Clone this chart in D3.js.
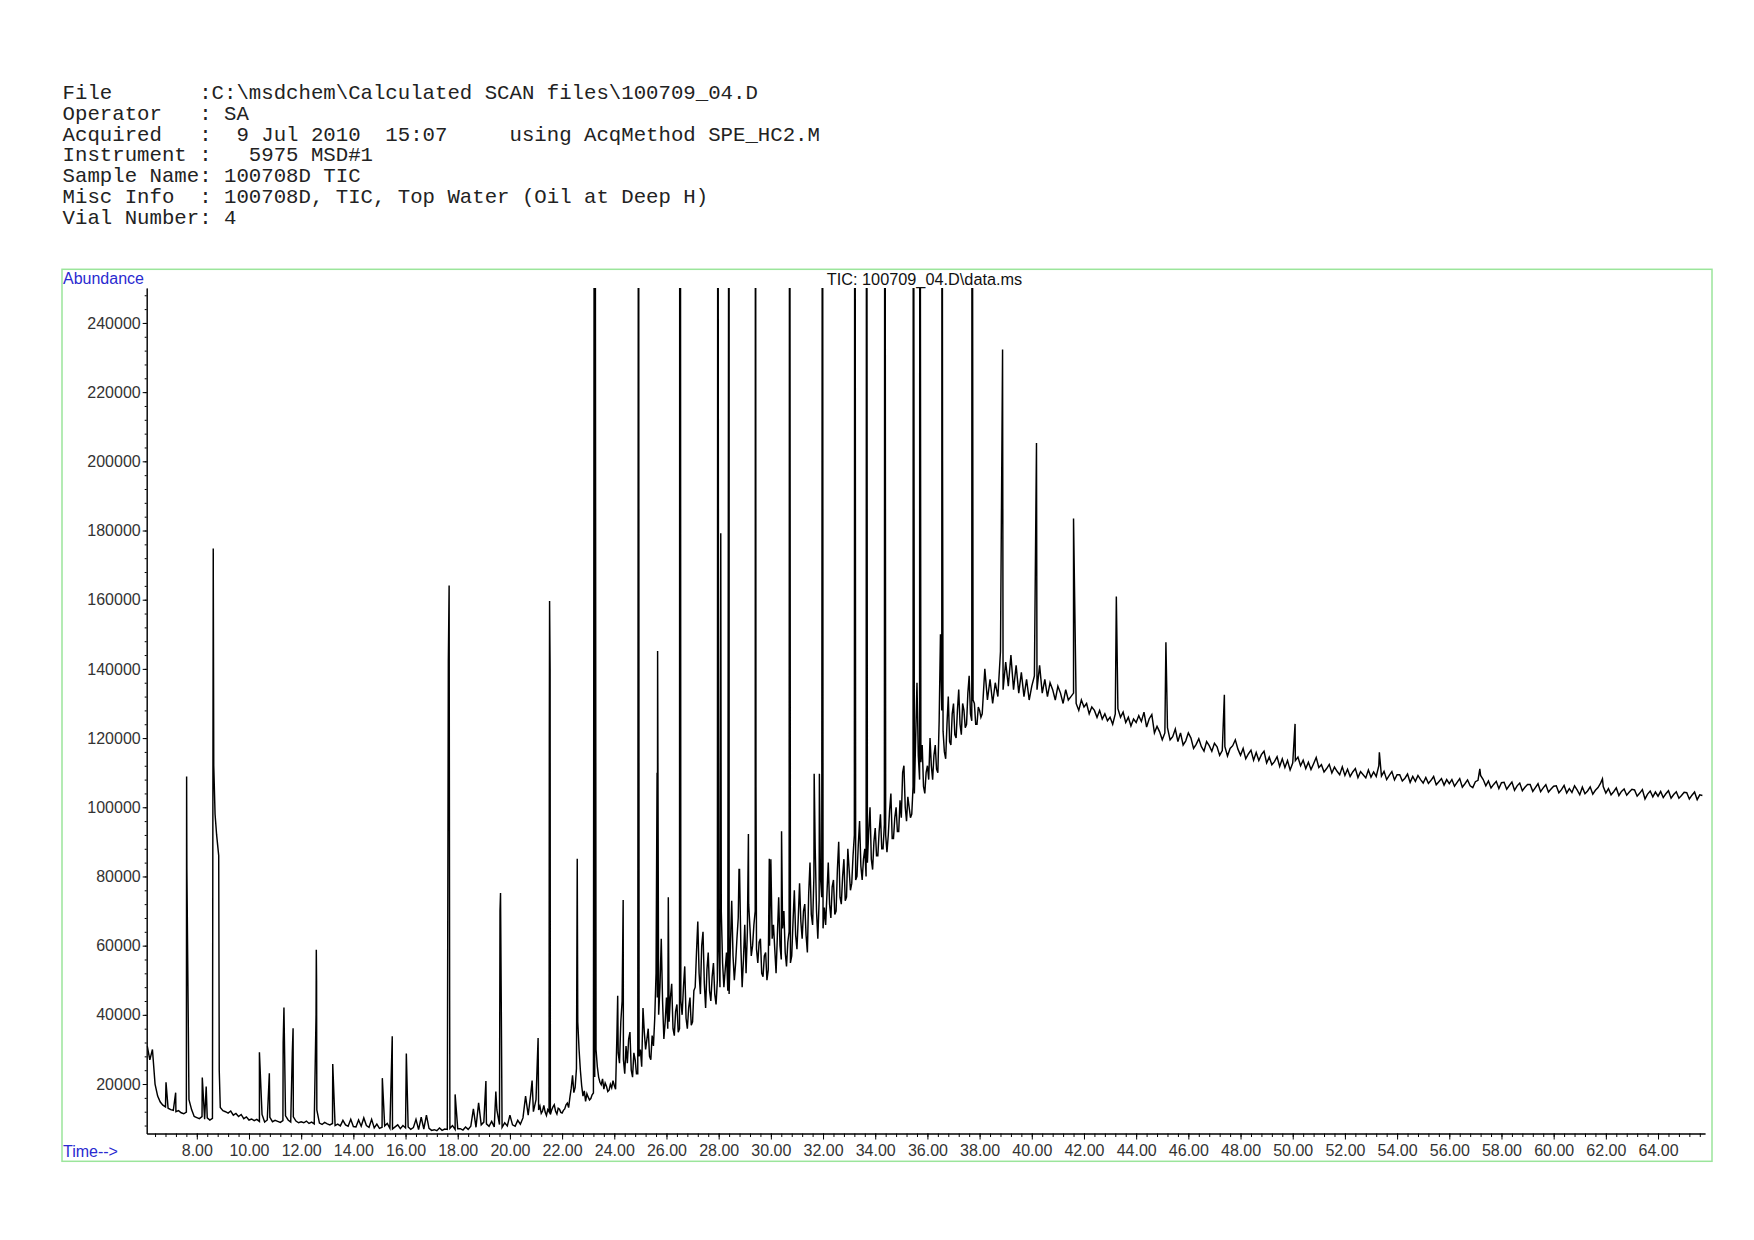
<!DOCTYPE html>
<html><head><meta charset="utf-8">
<script src="https://cdn.jsdelivr.net/npm/d3@7"></script>
<style>body{margin:0;background:#fff}svg{display:block}</style>
</head><body>
<svg id="chart" width="1754" height="1240"></svg>
<script>
// ---------- texts ----------
const headerLines = [
  "File       :C:\\msdchem\\Calculated SCAN files\\100709_04.D",
  "Operator   : SA",
  "Acquired   :  9 Jul 2010  15:07     using AcqMethod SPE_HC2.M",
  "Instrument :   5975 MSD#1",
  "Sample Name: 100708D TIC",
  "Misc Info  : 100708D, TIC, Top Water (Oil at Deep H)",
  "Vial Number: 4"
];
const chartTitle = "TIC: 100709_04.D\\data.ms";
const yLabel = "Abundance";
const xLabel = "Time-->";

// ---------- ticks ----------
const yTicks = [20000,40000,60000,80000,100000,120000,140000,160000,180000,200000,220000,240000];
const xTicks = [8,10,12,14,16,18,20,22,24,26,28,30,32,34,36,38,40,42,44,46,48,50,52,54,56,58,60,62,64];

// ---------- data (abundance in thousands) ----------
// segment A: 6.1 - 21.0 min, one reading every 0.1 min
const bgA_start = 6.1, bgA_step = 0.1;
const bgA = [
31,27,30,20,16.5,14.8,13.9,13.4,13.0,12.6,
12.4,12.0,12.3,11.7,11.4,11.9,15.5,12.6,10.6,10.3,
10.0,10.6,9.8,10.2,9.6,10.1,98,89,13.2,12.3,
12.0,11.6,12.2,11.0,11.5,10.6,11.2,10.0,10.5,9.6,
9.9,9.4,9.8,9.2,11.2,9.0,9.6,10.4,9.1,9.5,
9.2,8.9,9.4,10.8,9.6,9.0,10.5,9.3,8.8,9.1,
8.8,9.3,8.6,9.0,8.5,12.5,8.7,8.3,8.9,8.5,
8.2,8.6,8.0,8.4,7.9,9.5,8.2,7.8,9.8,7.7,
7.6,9.6,7.8,10.2,8.0,7.5,9.8,7.3,8.4,7.2,
7.5,7.9,8.6,7.2,7.0,7.6,8.2,7.1,8.0,7.3,
7.6,6.9,7.4,9.8,6.8,10.4,7.0,11.0,7.2,6.6,
6.8,6.5,7.3,6.6,7.0,6.9,7.2,8.0,6.9,7.1,
7.1,6.7,7.6,6.9,7.8,12.8,7.5,14.6,8.2,9.0,
8.5,7.8,9.2,7.6,12.5,8.3,7.5,8.8,7.9,11.0,
8.2,7.8,9.5,8.4,10.2,16.5,11.0,17.2,12.0,15.5
];
// segment B: 21.1 - 38.05 min, one reading every 0.05 min (dense unresolved region)
const bgB_start = 21.1, bgB_step = 0.05;
const bgB = [
12.5,13.6,11.5,12.2,13.8,11.9,10.9,12.6,12.0,11.2,12.5,13.4,14.0,12.1,11.3,13.0,12.7,11.8,11.6,12.4,
12.8,14.0,14.5,13.2,16.2,18.8,22.5,17.5,19.0,24.5,38,30,24,19.5,16.5,18.0,15.0,17.2,16.2,15.4,
15.8,16.9,17.4,22,30,25,22,20.5,19.8,21.5,18.5,20.3,19.4,17.8,18.2,19.9,18.9,21.0,19.6,18.5,
34,29,26,38,44,27,23,31,26,33,35,24,22,29,27,23,23,28,30,25,
42,35,30,33,36,28,27,34,31,39,52,45,40,48,62,44,33,38,45,36,
38,45,49,36,34,41,43,35,36,44,40,48,54,39,36,42,45,37,38,47,
48,58,67,52,46,60,64,49,42,53,58,47,44,51,55,46,43,50,60,48,
70,55,48,53,58,47,46,60,73,57,50,55,62,68,82,60,48,56,66,52,
64,72,65,57,60,66,70,59,55,61,62,52,51,57,58,50,53,60,85,62,
66,59,52,63,74,60,56,65,70,58,54,61,64,55,57,67,76,63,59,68,
78,67,62,70,72,63,58,75,84,69,66,80,88,70,62,73,80,74,65,71,
66,75,84,72,68,77,79,69,70,82,90,74,72,80,85,73,74,88,82,76,
78,86,92,79,80,89,96,83,79,85,88,80,84,93,100,85,82,90,94,86,
86,93,98,88,88,95,92,87,92,99,104,91,91,97,100,93,93,102,97,110,
112,100,96,103,100,97,98,106,104,120,136,115,108,113,118,106,104,110,112,108,
120,112,108,115,118,111,110,125,150,128,122,116,114,124,132,119,118,127,130,121,
120,128,134,124,121,130,128,123,124,133,138,127,125,131,130,124,124,129,128,126
];
// segment C: 38.1 - 52.0 min, every 0.1 min
const bgC_start = 38.1, bgC_step = 0.1;
const bgC = [
127,140,131,137,130,136,132,145,134,142,
135,144,134,141,133,139,132,137,131,135,
138,134,141,133,137,132,136,134,131,135,
133,130,134,131,132,133,130,128,131,129,
130,127,129,128,126,128,125.5,127,125,126,
124,127,128.5,126,127.5,124.5,126,123.5,125.5,124.5,
126.5,124.8,127.5,123.2,125.6,126.8,121.5,123.4,121.8,119.5,
121.5,123,119.5,120.4,122.6,119,121.5,118,119.2,121.5,
120,117,118.2,119.8,117.5,116.2,119,117.8,116.2,118.5,
117.5,115,116.4,117.5,114.8,117,117.8,119.5,116.8,115,
117,114,115.4,116.5,113.6,115.8,113.5,115.2,116.2,112.8,
114.5,112.3,113.2,114.6,111.8,114,111.5,113.5,110.8,112.8,
113.5,114.5,112,113.6,111.2,113,110.9,112.6,114.4,111.5,
112.3,110.2,111.2,112.4,109.9,111.6,110.4,109.4,111.7,109.2
];
// segment D: 52.1 - 65.7 min, every 0.1 min
const bgD_start = 52.1, bgD_step = 0.1;
const bgD = [
111,108.9,110.2,111.2,108.6,110.3,109.4,108.5,110.8,108.7,
110.2,108.9,112,109,110.4,108,109.2,110.3,107.9,109.4,
109.4,107.6,108.4,109.6,107.2,108.9,107.5,109.2,108,107,
108.6,106.9,107.8,108.9,106.5,107.4,108.3,106.4,108,106.8,
108,106.1,107.2,108.3,105.8,106.8,107.9,106.2,105.7,107.4,
107.8,109.2,108,106.2,107.6,105.6,106.6,107.5,105.4,107.1,
107.2,105.2,106.3,107.3,104.9,106.2,107,104.8,105.8,106.6,
106.6,104.6,105.7,106.8,104.5,105.6,106.5,104.4,105.3,106.1,
106.2,104.2,105.1,106.3,104.1,105.4,104.3,106.2,105,103.6,
105.8,103.9,104.7,105.9,103.8,104.9,105.7,107,106,104.1,
105.4,103.6,104.5,105.6,103.4,104.6,105.3,103.5,104.4,105.2,
105,103.2,104.1,105.1,102.4,103.8,104.7,103,104.4,103.2,
104.6,102.8,103.9,104.8,102.6,103.7,104.5,102.6,103.4,104.3,
104.2,102.4,103.5,104.4,102.2,103.6,103.4
];
// peak apexes [time (min), abundance (thousands)]; 400 = off scale
const peaks = [
[6.82,20.5],[7.19,17.5],[7.61,108.9],[7.62,82],[8.21,21.9],[8.36,19.3],
[8.63,174.8],[8.65,112],[8.76,92],[8.84,86],[8.86,24],
[10.40,29.2],[10.78,23.1],[11.31,32],[11.34,42.1],[11.66,29],[11.69,36.1],
[12.57,40],[12.58,58.8],[12.59,50],[13.21,25.8],[15.11,21.7],[15.49,33.8],[16.03,28.8],
[17.64,142.4],[17.67,164.1],[17.69,44],[17.90,17.0],[19.08,20.9],[19.46,17.8],
[19.62,70],[19.64,75.2],[20.85,21.0],[21.08,33.3],[21.51,120],[21.52,159.6],[21.54,140],
[22.58,85.1],[23.24,400],[23.26,400],[24.13,45.5],[24.34,73.2],[24.93,400],
[25.64,110],[25.66,145.2],[26.07,74.0],[26.51,400],[26.53,400],[27.97,400],[28.08,179.2],
[28.40,400],[28.78,82],[29.14,92.3],[29.41,400],[29.43,105.9],[29.94,85.1],[30.41,93.1],
[30.72,400],[31.66,109.7],[31.86,109.7],[31.98,400],[33.22,400],[33.67,400],[34.37,400],
[35.46,400],[35.71,400],[36.56,400],[36.58,200],[37.71,400],[38.88,232.3],[40.18,205.3],
[41.60,183.5],[43.24,160.9],[45.14,147.7],[47.38,132.5],[50.09,124.1],[53.32,115.9],
[57.17,111.1],[61.87,108.2]
];

// ---------- build series ----------
const series = [];
[[bgA_start,bgA_step,bgA],[bgB_start,bgB_step,bgB],[bgC_start,bgC_step,bgC],[bgD_start,bgD_step,bgD]]
  .forEach(([s,st,arr]) => arr.forEach((v,i) => series.push({t: s + i*st, v: v*1000})));
peaks.forEach(([t,v]) => series.push({t, v: v*1000}));
series.sort((a,b) => a.t - b.t);

// ---------- layout ----------
const svg = d3.select("#chart");
const X0 = 146.7, X1 = 1705, YT = 288, YB = 1133.5;
const x = d3.scaleLinear().domain([6.08, 65.8]).range([X0, X1]);
const y = d3.scaleLinear().domain([5700, 250100]).range([YB, YT]);

svg.append("rect").attr("width",1754).attr("height",1240).attr("fill","#fff");

// header
const hdr = svg.append("g").attr("font-family","'Liberation Mono','Courier New',monospace")
  .attr("font-size","20.7px").attr("fill","#222");
hdr.selectAll("text").data(headerLines).join("text")
  .attr("x",62.6).attr("y",(d,i)=>99 + i*20.8)
  .style("white-space","pre").text(d=>d);

// frame
svg.append("rect").attr("x",62).attr("y",269.3).attr("width",1650).attr("height",892)
  .attr("fill","none").attr("stroke","#9be59b").attr("stroke-width",1.5);

const sans = "'Liberation Sans',Arial,Helvetica,sans-serif";
svg.append("text").attr("x",63).attr("y",284).attr("font-family",sans).attr("font-size","16px")
  .attr("fill","#2a2ad0").text(yLabel);
svg.append("text").attr("x",63).attr("y",1156.5).attr("font-family",sans).attr("font-size","16px")
  .attr("fill","#2a2ad0").text(xLabel);
svg.append("text").attr("x",924.5).attr("y",284.5).attr("text-anchor","middle").attr("font-family",sans)
  .attr("font-size","16.3px").attr("fill","#111").text(chartTitle);

// clip
svg.append("clipPath").attr("id","plot").append("rect")
  .attr("x",X0).attr("y",YT).attr("width",X1-X0).attr("height",YB-YT);

// trace
const line = d3.line().x(d=>x(d.t)).y(d=>y(d.v));
svg.append("path").datum(series).attr("clip-path","url(#plot)")
  .attr("fill","none").attr("stroke","#000").attr("stroke-width",1.45)
  .attr("stroke-linejoin","miter").attr("d",line);

// axes
const styleAxis = g => {
  g.selectAll("path.domain").attr("stroke","#000").attr("stroke-width",1);
  g.selectAll(".tick line").attr("stroke","#000");
  g.selectAll("text").attr("font-family",sans).attr("font-size","16px").attr("fill","#333");
};
const yMinor = d3.range(8000, 250001, 4000);
svg.append("g").attr("transform",`translate(${X0},0)`)
  .call(d3.axisLeft(y).tickValues(yMinor).tickSize(2).tickFormat("").tickSizeOuter(0)).call(styleAxis);
svg.append("g").attr("transform",`translate(${X0},0)`)
  .call(d3.axisLeft(y).tickValues(yTicks).tickSize(4).tickPadding(2).tickFormat(d3.format("d")).tickSizeOuter(0))
  .call(styleAxis);

const xMinor = d3.range(6.4, 65.75, 0.4);
svg.append("g").attr("transform",`translate(0,${YB})`)
  .call(d3.axisBottom(x).tickValues(xMinor).tickSize(3.5).tickFormat("").tickSizeOuter(0)).call(styleAxis);
svg.append("g").attr("transform",`translate(0,${YB})`)
  .call(d3.axisBottom(x).tickValues(xTicks).tickSize(6).tickPadding(5).tickFormat(d3.format(".2f")).tickSizeOuter(0))
  .call(styleAxis);
</script>
</body></html>
